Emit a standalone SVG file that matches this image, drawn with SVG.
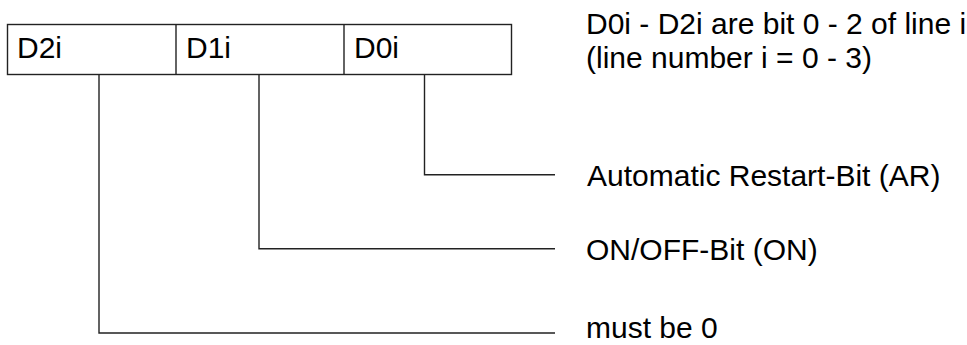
<svg xmlns="http://www.w3.org/2000/svg" width="967" height="345" viewBox="0 0 967 345">
<style>
text{font-family:"Liberation Sans",Arial,sans-serif;font-size:30px;fill:#000}
.ln{fill:none;stroke:#222;stroke-width:1.4}
</style>
<rect width="967" height="345" fill="#fff"/>
<g id="register">
<rect class="ln" x="7.5" y="24.5" width="504" height="50"/>
<line class="ln" x1="176" y1="24.5" x2="176" y2="74.5"/>
<line class="ln" x1="344" y1="24.5" x2="344" y2="74.5"/>
</g>
<g id="bit-D2i"><text x="17" y="58">D2i</text></g>
<g id="bit-D1i"><text x="186" y="58">D1i</text></g>
<g id="bit-D0i"><text x="354" y="58">D0i</text></g>
<g id="note">
<text x="586" y="34">D0i - D2i are bit 0 - 2 of line i</text>
<text x="586" y="68">(line number i = 0 - 3)</text>
</g>
<g id="label-AR"><text x="587" y="186">Automatic Restart-Bit (AR)</text></g>
<g id="label-ON"><text x="586" y="260">ON/OFF-Bit (ON)</text></g>
<g id="label-must"><text x="586" y="338">must be 0</text></g>
<g id="connectors">
<polyline class="ln" points="424.5,74.5 424.5,174.7 555,174.7"/>
<polyline class="ln" points="259,74.5 259,248.7 555,248.7"/>
<polyline class="ln" points="99,74.5 99,333 555,333"/>
</g>
</svg>
